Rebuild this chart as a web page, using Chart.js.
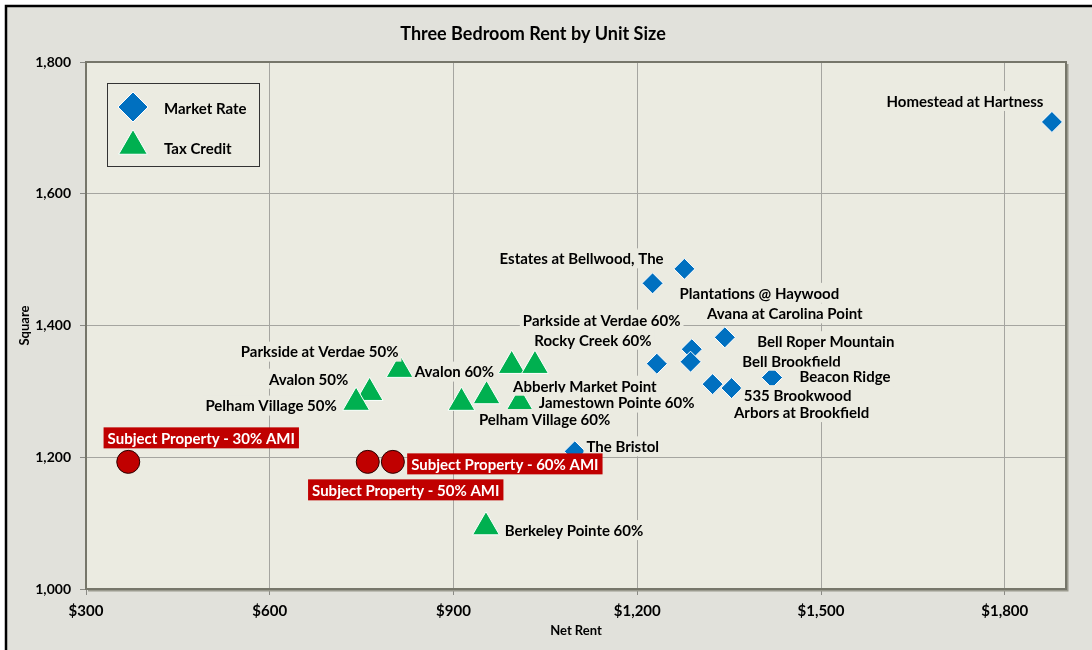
<!DOCTYPE html>
<html>
<head>
<meta charset="utf-8">
<script src="https://cdn.jsdelivr.net/npm/chart.js@4.4.1/dist/chart.umd.min.js"></script>
<style>
  html, body { margin: 0; padding: 0; background: #ffffff; }
  #wrap { width: 1092px; height: 650px; }
</style>
</head>
<body>
<div id="wrap"><canvas id="c" width="1092" height="650"></canvas></div>
<script>
// ---- data ----
const marketNames = ["Homestead at Hartness", "Estates at Bellwood, The", "Plantations @ Haywood", "Avana at Carolina Point",
  "Bell Roper Mountain", "Bell Brookfield", "Abberly Market Point", "Beacon Ridge", "535 Brookwood", "Arbors at Brookfield", "The Bristol"];
const marketRent = [1877, 1225, 1277, 1343, 1289, 1287, 1232, 1420, 1323, 1354, 1098];
const marketSqft = [1709, 1464, 1486, 1382, 1364, 1345, 1342, 1321, 1311, 1305, 1209];

const taxNames = ["Parkside at Verdae 50%", "Avalon 50%", "Pelham Village 50%", "Avalon 60%", "Parkside at Verdae 60%",
  "Rocky Creek 60%", "Jamestown Pointe 60%", "Pelham Village 60%", "Berkeley Pointe 60%"];
const taxRent = [812, 763, 741, 913, 995, 1033, 1008, 954, 953];
const taxSqft = [1333, 1298, 1283, 1283, 1339, 1339, 1283, 1293, 1094];

const subjectNames = ["Subject Property - 30% AMI", "Subject Property - 50% AMI", "Subject Property - 60% AMI"];
const subjectRent = [369, 760, 801];
const subjectSqft = [1193, 1193, 1193];

const xTickValues = [300, 600, 900, 1200, 1500, 1800];
const yTickValues = [1000, 1200, 1400, 1600, 1800];

// label placement (pixel offsets from each point), kept apart from the data
const marketLabelOffsets = [[-87,-21],[-71,-25],[75,24],[60,-24],[134,-8],[101,-1],[-72,22],[73,-1],[85,11],[70,24],[48,-5]];
const taxLabelOffsets = [[-80,-18],[-61,-14],[-85,3],[-7,-31],[90,-46],[58,-26],[97,0],[58,23],[88,3]];
const subjectLabelOffsets = [[73,-24],[38,28],[112,2]];

const FONT = "Lato";
const OUTER_BG = "#E1E1DB";
const PLOT_BG = "#EBEBE1";

function pts(xs, ys) { return xs.map((x, i) => ({ x: x, y: ys[i] })); }

const bgPlugin = {
  id: 'bg',
  beforeDraw(chart) {
    const ctx = chart.ctx, a = chart.chartArea;
    ctx.save();
    ctx.fillStyle = '#ffffff';
    ctx.fillRect(0, 0, chart.width, chart.height);
    ctx.fillStyle = OUTER_BG;
    ctx.fillRect(6, 6, chart.width, chart.height);
    ctx.strokeStyle = '#000000';
    ctx.lineWidth = 2.5;
    ctx.strokeRect(6, 6, chart.width + 20, chart.height + 20);
    ctx.fillStyle = PLOT_BG;
    ctx.fillRect(a.left, a.top, a.right - a.left, a.bottom - a.top);
    ctx.restore();
  },
  beforeDatasetsDraw(chart) {
    const ctx = chart.ctx, a = chart.chartArea;
    ctx.save();
    ctx.strokeStyle = '#9A9A8E';
    ctx.lineWidth = 3;
    ctx.beginPath();
    ctx.moveTo(a.right + 1, a.top + 2);
    ctx.lineTo(a.right + 1, a.bottom + 1);
    ctx.lineTo(a.left + 2, a.bottom + 1);
    ctx.stroke();
    ctx.strokeStyle = '#76766A';
    ctx.lineWidth = 2;
    ctx.strokeRect(a.left, a.top, a.right - a.left, a.bottom - a.top);
    ctx.restore();
  }
};

const labelPlugin = {
  id: 'pointLabels',
  afterDatasetsDraw(chart) {
    const ctx = chart.ctx;
    ctx.save();
    chart.data.datasets.forEach((ds, di) => {
      const meta = chart.getDatasetMeta(di);
      const cfg = ds.labelCfg;
      meta.data.forEach((el, i) => {
        const off = cfg.offsets[i];
        const cx = el.x + off[0], cy = el.y + off[1];
        ctx.font = "bold 15px " + FONT;
        const w = ctx.measureText(cfg.names[i]).width;
        ctx.fillStyle = cfg.bg;
        ctx.fillRect(cx - w / 2 - cfg.padX, cy - cfg.h / 2, w + 2 * cfg.padX, cfg.h);
        ctx.fillStyle = cfg.color;
        ctx.textAlign = 'center';
        ctx.textBaseline = 'middle';
        ctx.fillText(cfg.names[i], cx, cy + 1);
      });
    });
    ctx.restore();
  }
};

const legendPlugin = {
  id: 'boxLegend',
  afterDraw(chart) {
    const ctx = chart.ctx;
    ctx.save();
    ctx.fillStyle = PLOT_BG;
    ctx.fillRect(107, 83, 152, 83);
    ctx.strokeStyle = '#333333';
    ctx.lineWidth = 1;
    ctx.strokeRect(107.5, 83.5, 152, 83);
    const items = [chart.data.datasets[0], chart.data.datasets[1]];
    const ys = [107, 146];
    items.forEach((ds, i) => {
      Chart.helpers.drawPoint(ctx, {
        pointStyle: ds.pointStyle, radius: i === 0 ? 15 : 16.5, rotation: 0, borderWidth: 1
      }, 133, ys[i]);
      ctx.fillStyle = ds.backgroundColor;
      ctx.strokeStyle = '#ffffff';
      ctx.lineWidth = 1;
      ctx.fill();
      ctx.stroke();
      ctx.fillStyle = '#000000';
      ctx.font = "bold 15px " + FONT;
      ctx.textAlign = 'left';
      ctx.textBaseline = 'middle';
      ctx.fillText(ds.label, 164, i === 0 ? 109 : 149);
    });
    ctx.restore();
  }
};

new Chart(document.getElementById('c'), {
  type: 'scatter',
  data: {
    datasets: [
      {
        label: 'Market Rate', data: pts(marketRent, marketSqft),
        pointStyle: 'rectRot', pointRadius: 10.5, pointHoverRadius: 10.5,
        backgroundColor: '#0070C0', borderColor: '#ffffff', borderWidth: 1,
        labelCfg: { names: marketNames, offsets: marketLabelOffsets, bg: PLOT_BG, color: '#000000', padX: 3, h: 20 }
      },
      {
        label: 'Tax Credit', data: pts(taxRent, taxSqft),
        pointStyle: 'triangle', pointRadius: 15.5, pointHoverRadius: 15.5,
        backgroundColor: '#00B050', borderColor: '#ffffff', borderWidth: 1,
        labelCfg: { names: taxNames, offsets: taxLabelOffsets, bg: PLOT_BG, color: '#000000', padX: 3, h: 20 }
      },
      {
        label: 'Subject Property', data: pts(subjectRent, subjectSqft),
        pointStyle: 'circle', pointRadius: 11.5, pointHoverRadius: 11.5,
        backgroundColor: '#C00000', borderColor: '#2a0000', borderWidth: 1,
        labelCfg: { names: subjectNames, offsets: subjectLabelOffsets, bg: '#C00000', color: '#ffffff', padX: 4, h: 21 }
      }
    ]
  },
  options: {
    responsive: false,
    animation: false,
    devicePixelRatio: 1,
    layout: { padding: { left: 0, right: 26, top: 0, bottom: 0 } },
    plugins: {
      legend: { display: false },
      tooltip: { enabled: false },
      title: {
        display: true, text: 'Three Bedroom Rent by Unit Size', color: '#000000',
        font: { family: FONT, size: 18, weight: 'bold', lineHeight: 1.2 },
        padding: { top: 23.2, bottom: 17.2 }
      }
    },
    scales: {
      x: {
        type: 'linear', min: 300, max: 1900,
        afterFit(s) { s.height = 61; },
        afterBuildTicks(s) { s.ticks = xTickValues.map(v => ({ value: v })); },
        ticks: {
          color: '#000000', padding: 7, maxRotation: 0,
          font: { family: FONT, size: 15, weight: 'bold' },
          callback: v => '$' + v.toLocaleString('en-US')
        },
        grid: { color: '#A5A5A0', lineWidth: 1, tickLength: 6, tickColor: '#8A8A85', drawTicks: true },
        border: { display: false },
        title: { display: true, text: 'Net Rent', color: '#000000', font: { family: FONT, size: 13, weight: 'bold' }, padding: { top: 0, bottom: 11 } }
      },
      y: {
        type: 'linear', min: 1000, max: 1800,
        afterFit(s) { s.width = 86; },
        afterBuildTicks(s) { s.ticks = yTickValues.map(v => ({ value: v })); },
        ticks: {
          color: '#000000', padding: 9,
          font: { family: FONT, size: 14, weight: 'bold' },
          callback: v => v.toLocaleString('en-US')
        },
        grid: { color: '#A5A5A0', lineWidth: 1, tickLength: 6, tickColor: '#8A8A85', drawTicks: true },
        border: { display: false },
        title: { display: true, text: 'Square', color: '#000000', font: { family: FONT, size: 13, weight: 'bold' }, padding: { top: 17, bottom: 0 } }
      }
    }
  },
  plugins: [bgPlugin, labelPlugin, legendPlugin]
});
</script>
</body>
</html>
